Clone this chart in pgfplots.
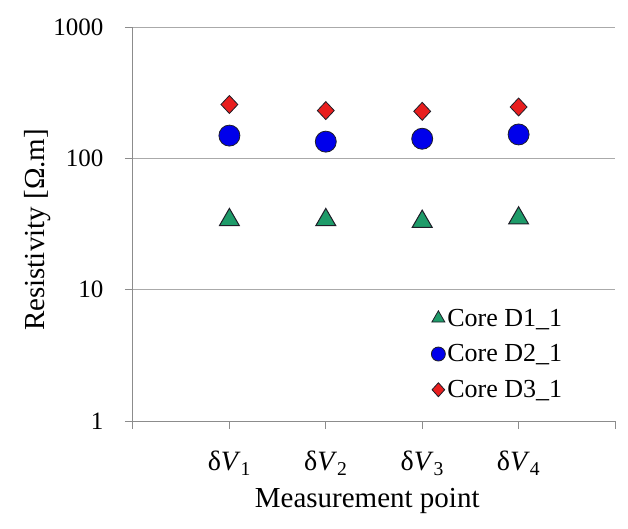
\documentclass[border=0pt]{standalone}
\usepackage{pgfplots}
\pgfplotsset{compat=1.18}
\usepackage{fontspec}
\setmainfont{Liberation Serif}
\definecolor{cgreen}{RGB}{30,155,105}
\definecolor{cblue}{RGB}{0,0,235}
\definecolor{cred}{RGB}{232,30,30}
\definecolor{cedge}{RGB}{30,30,40}
\definecolor{axgray}{RGB}{140,140,140}
\definecolor{grgray}{RGB}{170,170,170}
\begin{document}
\begin{tikzpicture}
\useasboundingbox (-133pt,-107pt) rectangle (495pt,421pt);
\begin{axis}[
  at={(0,0)}, anchor=south west,
  scale only axis, width=482pt, height=394pt,
  ymode=log, ymin=1, ymax=1000,
  xmin=0, xmax=5,
  axis x line*=bottom, axis y line*=left,
  axis line style={axgray, line width=1pt},
  ytick={1,10,100,1000}, yticklabels={1,10,100,1000},
  yminorticks=false,
  xtick={0,1,2,3,4,5},
  xticklabels={,δ\textit{V}\textsubscript{1},δ\textit{V}\textsubscript{2},δ\textit{V}\textsubscript{3},δ\textit{V}\textsubscript{4},},
  tick align=outside, major tick length=8pt,
  tick style={axgray, line width=1pt},
  ymajorgrids, grid style={grgray, line width=1pt},
  /pgf/number format/assume math mode=true,
  yticklabel style={font=\fontsize{25}{30}\selectfont, xshift=-18pt},
  xticklabel style={font=\fontsize{28}{32}\selectfont, anchor=base, yshift=-42pt},
  every axis y label/.style={at={(axis description cs:0,0.485)}, xshift=-95pt, rotate=90, anchor=center, font=\fontsize{29}{32}\selectfont},
  every axis x label/.style={at={(axis description cs:0.486,0)}, yshift=-80pt, anchor=center, font=\fontsize{29}{32}\selectfont},
  ylabel={Resistivity [Ω.m]},
  xlabel={Measurement point},
  legend style={at={(axis description cs:0.895,0.29)}, anchor=north east, draw=none, fill=none, font=\fontsize{26}{30}\selectfont, row sep=13pt, inner sep=0pt},
  legend cell align=left,
  clip=false,
]
\addplot[only marks, mark=triangle*, mark size=11.5pt, mark options={fill=cgreen, draw=cedge, line width=1pt}, forget plot]
  coordinates {(1,34) (2,34) (3,33) (4,35)};
\addplot[only marks, mark=*, mark size=10.5pt, mark options={fill=cblue, draw=cedge, line width=0.8pt}, forget plot]
  coordinates {(1,149) (2,134) (3,141) (4,152)};
\addplot[only marks, mark=diamond*, mark size=9pt, mark options={fill=cred, draw=cedge, line width=0.8pt, xscale=1.25}, forget plot]
  coordinates {(1,257) (2,231) (3,228) (4,246)};
\addlegendimage{only marks, mark=triangle*, mark size=7.5pt, mark options={fill=cgreen, draw=cedge, line width=0.8pt}}
\addlegendentry{Core D1\_1}
\addlegendimage{only marks, mark=*, mark size=7pt, mark options={fill=cblue, draw=cedge, line width=0.8pt}}
\addlegendentry{Core D2\_1}
\addlegendimage{only marks, mark=diamond*, mark size=7pt, mark options={fill=cred, draw=cedge, line width=0.8pt, xscale=1.2}}
\addlegendentry{Core D3\_1}
\end{axis}
\end{tikzpicture}
\end{document}
